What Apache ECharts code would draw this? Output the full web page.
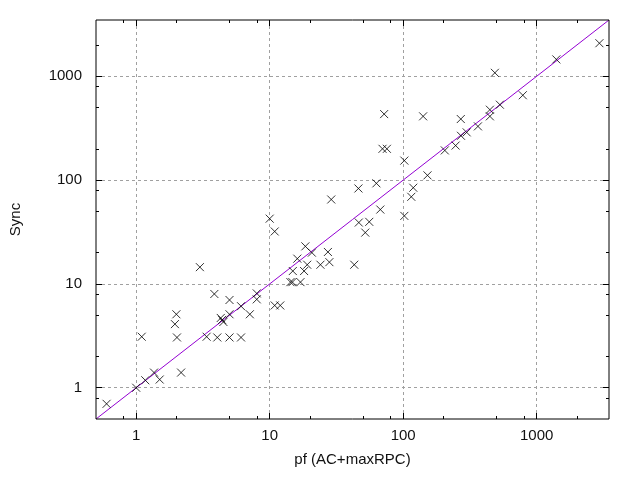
<!DOCTYPE html>
<html>
<head>
<meta charset="utf-8">
<script src="https://cdn.jsdelivr.net/npm/echarts@6/dist/echarts.min.js"></script>
<style>html,body{margin:0;padding:0;background:#fff}#c{width:640px;height:480px}</style>
</head>
<body>
<div id="c"></div>
<script>
// Data (x = pf (AC+maxRPC), y = Sync)
const pfValues = [0.6, 1, 1.1, 1.17, 1.36, 1.5, 2.17, 2, 1.95, 2.02, 3, 3.85, 3.37, 4.05, 4.3, 4.4, 4.5, 5, 5, 5, 6.1, 6.1, 7.1, 8, 8,
  10.9, 12, 10, 10.9, 14.3, 14.8, 17, 14.9, 18.1, 16.1, 19.1, 18.5, 20.7, 24, 27.3, 28, 28.9, 43, 46.5, 55.7, 52, 46.2, 63, 67.4,
  70, 75.5, 72, 102, 102, 119, 115, 152, 141, 205, 247, 270, 271, 299, 363, 446, 446, 486, 530, 787, 1403, 2950];
const syncValues = [0.7, 1, 3.1, 1.18, 1.4, 1.2, 1.4, 5.1, 4.1, 3.05, 14.5, 8, 3.1, 3.05, 4.7, 4.5, 4.3, 7, 5.1, 3.05, 6.1, 3.05, 5.1, 8.1, 7.1,
  6.2, 6.2, 42.5, 32, 10.4, 10.4, 10.4, 13.3, 13.3, 17.5, 15.3, 23, 20, 15.3, 20.3, 16.2, 65, 15.3, 39, 39.6, 31.2, 83, 93, 52,
  200, 200, 432, 154, 45.2, 84.4, 69, 111, 411, 193, 215, 387, 267, 288, 329, 476, 411, 1079, 532, 656, 1452, 2080];
const diagonal = [0.5, 3480];
const majorTicks = [1, 10, 100, 1000];
const minorTicks = [0.8, 2, 5, 8, 20, 50, 80, 200, 500, 800, 2000];
const axisMin = 0.5, axisMax = 3480;

const points = pfValues.map((v, i) => [v, syncValues[i]]);
const font = 'Liberation Sans, Arial, sans-serif';

function fmt(v) {
  return majorTicks.indexOf(Math.round(v * 1000) / 1000) >= 0 ? String(Math.round(v)) : '';
}
function mkAxis(pos, kind) {
  return {
    type: 'log', logBase: 10, min: axisMin, max: axisMax, position: pos,
    axisLine: { show: false },
    axisLabel: { show: false },
    splitLine: { show: false },
    axisTick: { show: true, inside: true, length: kind === 'major' ? 6 : 3,
      customValues: kind === 'major' ? majorTicks : minorTicks,
      lineStyle: { color: '#000', width: 1 } }
  };
}
const mainX = mkAxis('bottom', 'major');
Object.assign(mainX, {
  name: 'pf (AC+maxRPC)', nameLocation: 'middle', nameGap: 33,
  nameTextStyle: { fontSize: 15, color: '#111', fontFamily: font },
  axisLabel: { show: true, customValues: majorTicks, formatter: fmt, margin: 9, fontSize: 15, color: '#111', fontFamily: font },
  splitLine: { show: true, lineStyle: { color: '#a0a0a0', width: 1, type: [3, 3] } }
});
const mainY = mkAxis('left', 'major');
Object.assign(mainY, {
  name: 'Sync', nameLocation: 'middle', nameGap: 73,
  nameTextStyle: { fontSize: 15, color: '#111', fontFamily: font },
  axisLabel: { show: true, customValues: majorTicks, formatter: fmt, margin: 14, fontSize: 15, color: '#111', fontFamily: font },
  splitLine: { show: true, lineStyle: { color: '#a0a0a0', width: 1, type: [3, 3] } }
});

const chart = echarts.init(document.getElementById('c'), null, { renderer: 'canvas' });
chart.setOption({
  animation: false,
  backgroundColor: '#fff',
  grid: { left: 94, right: 31, top: 20, bottom: 61, show: true, borderColor: '#000', borderWidth: 1, backgroundColor: 'transparent', z: 10 },
  xAxis: [mainX, mkAxis('top', 'major'), mkAxis('bottom', 'minor'), mkAxis('top', 'minor')],
  yAxis: [mainY, mkAxis('right', 'major'), mkAxis('left', 'minor'), mkAxis('right', 'minor')],
  series: [
    {
      type: 'line', xAxisIndex: 0, yAxisIndex: 0,
      data: diagonal.map(v => [v, v]),
      symbol: 'none', lineStyle: { color: '#9400d3', width: 1 }, silent: true, z: 2
    },
    {
      type: 'scatter', xAxisIndex: 0, yAxisIndex: 0,
      data: points,
      symbol: 'path://M0,0L10,10M10,0L0,10', symbolSize: 8,
      itemStyle: { color: 'rgba(0,0,0,0)', borderColor: '#000', borderWidth: 1 },
      z: 3
    }
  ]
});
</script>
</body>
</html>
